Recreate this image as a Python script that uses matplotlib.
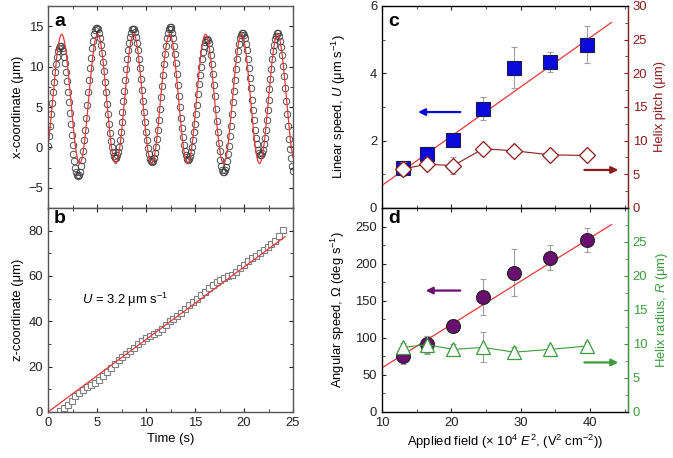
import matplotlib
matplotlib.use("Agg")
import matplotlib.pyplot as plt
import numpy as np
from matplotlib.ticker import MultipleLocator

plt.rcParams['font.family'] = ['Liberation Sans', 'DejaVu Sans']
plt.rcParams['mathtext.fontset'] = 'custom'
plt.rcParams['mathtext.rm'] = 'Liberation Sans'
plt.rcParams['mathtext.it'] = 'Liberation Sans:italic'
FS = 9.4
plt.rcParams['font.size'] = FS

# ---------------- panel a data (x-coordinate vs time, 0.1 s sampling) ----------------
t_a = [round(0.1 * i, 1) for i in range(251)]
x_a = [
    0.2, 1.4, 2.7, 4.1, 5.5, 6.8, 8.1, 9.3, 10.3, 11.2, 11.9, 12.3, 12.6,
    12.6, 12.3, 11.9, 11.2, 10.4, 9.3, 8.2, 6.9, 5.6, 4.2, 2.9, 1.5, 0.3, -0.8, -1.7, -2.5, -3.0, -3.4, -3.5,
    -3.4, -3.0, -2.3, -1.5, -0.4, 0.9, 2.2, 3.7, 5.3, 6.8, 8.3, 9.8, 11.1, 12.3, 13.2, 14.0, 14.5, 14.8,
    14.8, 14.6, 14.1, 13.5, 12.7, 11.7, 10.6, 9.4, 8.1, 6.8, 5.4, 4.1, 2.9, 1.8, 0.8, 0.0, -0.6, -1.1, -1.3,
    -1.3, -1.0, -0.6, 0.1, 0.9, 1.9, 3.1, 4.4, 5.7, 7.0, 8.4, 9.7, 10.9, 12.0, 12.9, 13.7, 14.2, 14.6, 14.7,
    14.6, 14.3, 13.7, 12.9, 12.0, 10.9, 9.8, 8.5, 7.1, 5.8, 4.4, 3.1, 1.9, 0.9, -0.1, -0.8, -1.4, -1.7, -1.8,
    -1.7, -1.3, -0.7, 0.0, 1.0, 2.2, 3.4, 4.8, 6.2, 7.6, 9.0, 10.3, 11.5, 12.6, 13.5, 14.2, 14.6, 14.9,
    14.9, 14.6, 14.2, 13.5, 12.6, 11.6, 10.4, 9.1, 7.7, 6.4, 5.0, 3.6, 2.4, 1.3, 0.3, -0.5, -1.0, -1.4, -1.5,
    -1.4, -1.1, -0.6, 0.1, 0.9, 1.9, 2.9, 4.1, 5.3, 6.6, 7.8, 8.9, 10.0, 11.0, 11.8, 12.5, 13.0, 13.3, 13.4,
    13.3, 12.9, 12.2, 11.4, 10.3, 9.1, 7.7, 6.3, 4.8, 3.3, 1.9, 0.6, -0.5, -1.5, -2.3, -2.8, -3.1,
    -3.1, -2.8, -2.4, -1.7, -0.8, 0.2, 1.4, 2.7, 4.1, 5.6, 7.0, 8.4, 9.7, 10.9, 11.9, 12.8, 13.5, 13.9, 14.2,
    14.2, 13.9, 13.5, 12.8, 12.0, 11.0, 9.8, 8.6, 7.3, 5.9, 4.6, 3.4, 2.2, 1.2, 0.4, -0.3, -0.7, -1.0,
    -1.0, -0.7, -0.3, 0.4, 1.2, 2.2, 3.4, 4.6, 5.9, 7.2, 8.5, 9.7, 10.9, 11.9, 12.7, 13.4, 13.8, 14.1,
    14.1, 13.8, 13.2, 12.4, 11.4, 10.1, 8.8, 7.3, 5.7, 4.1, 2.6, 1.1, -0.2, -1.3, -2.3, -2.9,
]
# sinusoidal fit parameters for panel a
fit_a_offset = 6.0
fit_a_amp = 8.0
fit_a_period = 3.67
fit_a_t0 = 0.48

# ---------------- panel b data (z-coordinate vs time) ----------------
t_b = [1.2, 1.6, 2.0, 2.4, 2.8, 3.2, 3.6, 4.0, 4.4, 4.8, 5.2, 5.6, 6.0, 6.4, 6.8, 7.2, 7.6, 8.0,
       8.4, 8.8, 9.2, 9.6, 10.0, 10.4, 10.8, 11.2, 11.6, 12.0, 12.4, 12.8, 13.2, 13.6, 14.0, 14.4,
       14.8, 15.2, 15.6, 16.0, 16.4, 16.8, 17.2, 17.6, 18.0, 18.4, 18.8, 19.2, 19.6, 20.0, 20.4,
       20.8, 21.2, 21.6, 22.0, 22.4, 22.8, 23.2, 23.6, 24.0]
z_b = [0.5, 1.8, 3.0, 5.0, 7.0, 8.5, 9.8, 11.0, 11.8, 12.8, 14.2, 15.8, 17.7, 19.5, 21.2, 22.8,
       24.3, 25.8, 27.0, 28.3, 29.8, 31.3, 32.5, 33.4, 34.2, 35.2, 36.7, 38.4, 40.0, 41.2, 42.3,
       43.8, 45.6, 47.3, 48.7, 50.0, 51.5, 53.1, 54.8, 56.2, 57.3, 58.2, 59.0, 59.8, 60.6, 61.8,
       63.4, 64.9, 66.6, 68.0, 69.0, 70.2, 71.5, 72.8, 74.0, 75.5, 77.5, 80.5]
fit_b_t = [0.0, 24.2]
fit_b_z = [0.0, 77.4]

# ---------------- panels c, d data ----------------
field = [13.0, 16.5, 20.3, 24.6, 29.1, 34.2, 39.6]
U = [1.2, 1.6, 2.02, 2.95, 4.17, 4.33, 4.85]
U_err = [0.2, 0.2, 0.2, 0.35, 0.6, 0.3, 0.55]
pitch = [5.8, 6.5, 6.3, 8.8, 8.5, 7.9, 7.8]
pitch_err = [1.0, 0.8, 1.3, 0.5, 0.5, 0.5, 0.5]
omega = [75, 91, 116, 155, 188, 208, 232]
omega_err = [10, 12, 5, 24, 32, 17, 16]
radius = [9.5, 9.9, 9.2, 9.5, 8.8, 9.2, 9.7]
radius_err = [0.7, 1.3, 0.8, 2.2, 0.8, 0.6, 0.6]
fit_c_x = [10.0, 43.1]
fit_c_y = [0.67, 5.51]
fit_d_x = [10.0, 43.1]
fit_d_y = [59.5, 252.6]

red = '#e8383a'
dred = '#8b1a1a'
green = '#3c9b3c'
purple = '#6a0f6f'
blue = '#0a0adc'

fig = plt.figure(figsize=(6.73, 4.58), dpi=100)
W, H = 673, 458
def box(l, r, t, b):
    return [l / W, 1 - b / H, (r - l) / W, (b - t) / H]

ax_a = fig.add_axes(box(48, 293, 6, 208))
ax_b = fig.add_axes(box(48, 293, 208, 412))
ax_c = fig.add_axes(box(382, 628, 6, 208))
ax_d = fig.add_axes(box(382, 628, 208, 412))

def style(ax, right=True):
    ax.tick_params(direction='in', which='both', top=True, right=right, labelsize=FS,
                   colors='#222222', length=3)
    ax.tick_params(which='minor', length=2)
    for s in ax.spines.values():
        s.set_color('#555555')
        s.set_linewidth(1.0)

# ----- panel a -----
ax_a.plot(t_a, x_a, 'o', ms=4.7, mfc='none', mec='#3a3a3a', mew=0.6)
tf = np.linspace(0, 25, 600)
ax_a.plot(tf, fit_a_offset + fit_a_amp * np.sin(2 * np.pi * (tf - fit_a_t0) / fit_a_period),
          color=red, lw=0.9)
ax_a.set_xlim(0, 25)
ax_a.set_ylim(-7.5, 17.5)
ax_a.xaxis.set_major_locator(MultipleLocator(5))
ax_a.xaxis.set_minor_locator(MultipleLocator(2.5))
ax_a.yaxis.set_minor_locator(MultipleLocator(2.5))
ax_a.set_yticks([-5, 0, 5, 10, 15])
ax_a.set_yticklabels(['\u22125', '0', '5', '10', '15'])
ax_a.tick_params(labelbottom=False)
style(ax_a)
ax_a.set_ylabel('x-coordinate (μm)', fontsize=FS, labelpad=3)
ax_a.text(0.025, 0.965, 'a', transform=ax_a.transAxes, fontsize=14, fontweight='bold', va='top')

# ----- panel b -----
ax_b.plot(t_b, z_b, 's', ms=4.0, mfc='white', mec='#808080', mew=0.8)
ax_b.plot(fit_b_t, fit_b_z, color=red, lw=0.9)
ax_b.set_xlim(0, 25)
ax_b.set_ylim(0, 90)
ax_b.xaxis.set_major_locator(MultipleLocator(5))
ax_b.xaxis.set_minor_locator(MultipleLocator(2.5))
ax_b.yaxis.set_minor_locator(MultipleLocator(10))
ax_b.set_yticks([0, 20, 40, 60, 80])
style(ax_b)
ax_b.set_ylabel('z-coordinate (μm)', fontsize=FS, labelpad=3)
ax_b.set_xlabel('Time (s)', fontsize=FS, labelpad=3)
ax_b.text(0.025, 0.99, 'b', transform=ax_b.transAxes, fontsize=14, fontweight='bold', va='top')
ax_b.text(3.5, 49.5, '$U$ = 3.2 μm s$^{-1}$', fontsize=FS, va='center', ha='left')

# ----- panel c -----
ax_c.errorbar(field, U, yerr=U_err, fmt='none', ecolor='#a0a0a0', elinewidth=0.8, capsize=2, capthick=0.8, zorder=2)
ax_c.plot(fit_c_x, fit_c_y, color=red, lw=0.9, zorder=3)
ax_c.plot(field, U, 's', ms=9.5, mfc=blue, mec='#1a1a4a', mew=0.8, zorder=4)
ax_c.set_xlim(10, 45.5)
ax_c.set_ylim(0, 6)
ax_c.xaxis.set_major_locator(MultipleLocator(10))
ax_c.xaxis.set_minor_locator(MultipleLocator(5))
ax_c.yaxis.set_major_locator(MultipleLocator(2))
ax_c.yaxis.set_minor_locator(MultipleLocator(1))
style(ax_c, right=False)
ax_c.tick_params(labelbottom=False)
ax_c.set_ylabel('Linear speed, $U$ (μm s$^{-1}$)', fontsize=FS, labelpad=16)
ax_c.text(0.025, 0.965, 'c', transform=ax_c.transAxes, fontsize=14, fontweight='bold', va='top')
ax_c.annotate('', xy=(14.8, 2.85), xytext=(21.7, 2.85),
              arrowprops=dict(arrowstyle='-|>', color=blue, lw=1.6, mutation_scale=10))
ax_c.annotate('', xy=(44.5, 1.13), xytext=(38.8, 1.13),
              arrowprops=dict(arrowstyle='-|>', color=dred, lw=1.6, mutation_scale=10))

ax_c2 = ax_c.twinx()
ax_c2.errorbar(field, pitch, yerr=pitch_err, fmt='none', ecolor='#a0a0a0', elinewidth=0.8, capsize=2, capthick=0.8)
ax_c2.plot(field, pitch, '-', color=dred, lw=0.8)
ax_c2.plot(field, pitch, 'D', ms=8, mfc='white', mec=dred, mew=0.9)
ax_c2.set_ylim(0, 30)
ax_c2.yaxis.set_major_locator(MultipleLocator(5))
ax_c2.yaxis.set_minor_locator(MultipleLocator(2.5))
ax_c2.tick_params(direction='in', which='both', colors=dred, labelsize=FS, length=3)
ax_c2.tick_params(which='minor', length=2)
ax_c2.spines['right'].set_color(dred)
ax_c2.set_ylabel('Helix pitch (μm)', color=dred, fontsize=FS, labelpad=5)

# ----- panel d -----
ax_d.errorbar(field, omega, yerr=omega_err, fmt='none', ecolor='#a0a0a0', elinewidth=0.8, capsize=2, capthick=0.8, zorder=2)
ax_d.plot(fit_d_x, fit_d_y, color=red, lw=0.9, zorder=3)
ax_d.plot(field, omega, 'o', ms=10, mfc=purple, mec='#222222', mew=0.8, zorder=4)
ax_d.set_xlim(10, 45.5)
ax_d.set_ylim(0, 275)
ax_d.xaxis.set_minor_locator(MultipleLocator(5))
ax_d.yaxis.set_major_locator(MultipleLocator(50))
ax_d.yaxis.set_minor_locator(MultipleLocator(25))
style(ax_d, right=False)
ax_d.set_xticks([10, 20, 30, 40])
ax_d.set_ylabel('Angular speed, $\\Omega$ (deg s$^{-1}$)', fontsize=FS, labelpad=6)
ax_d.set_xlabel('Applied field (× 10$^4$ $E^2$, (V$^2$ cm$^{-2}$))', fontsize=FS, labelpad=3)
ax_d.text(0.025, 0.99, 'd', transform=ax_d.transAxes, fontsize=14, fontweight='bold', va='top')
ax_d.annotate('', xy=(15.9, 163.7), xytext=(21.7, 163.7),
              arrowprops=dict(arrowstyle='-|>', color=purple, lw=1.6, mutation_scale=10))
ax_d.annotate('', xy=(44.5, 66.8), xytext=(38.8, 66.8),
              arrowprops=dict(arrowstyle='-|>', color=green, lw=1.6, mutation_scale=10))

ax_d2 = ax_d.twinx()
ax_d2.errorbar(field, radius, yerr=radius_err, fmt='none', ecolor='#a0a0a0', elinewidth=0.8, capsize=2, capthick=0.8)
ax_d2.plot(field, radius, '-', color=green, lw=0.8)
ax_d2.plot(field, radius, '^', ms=10, mfc='white', mec=green, mew=0.9)
ax_d2.set_ylim(0, 30)
ax_d2.set_yticks([0, 5, 10, 15, 20, 25])
ax_d2.yaxis.set_minor_locator(MultipleLocator(2.5))
ax_d2.tick_params(direction='in', which='both', colors=green, labelsize=FS, length=3)
ax_d2.tick_params(which='minor', length=2)
ax_d2.spines['right'].set_color(green)
ax_d2.set_ylabel('Helix radius, $R$ (μm)', color=green, fontsize=FS, labelpad=5)

fig.savefig('out.png', dpi=100)
